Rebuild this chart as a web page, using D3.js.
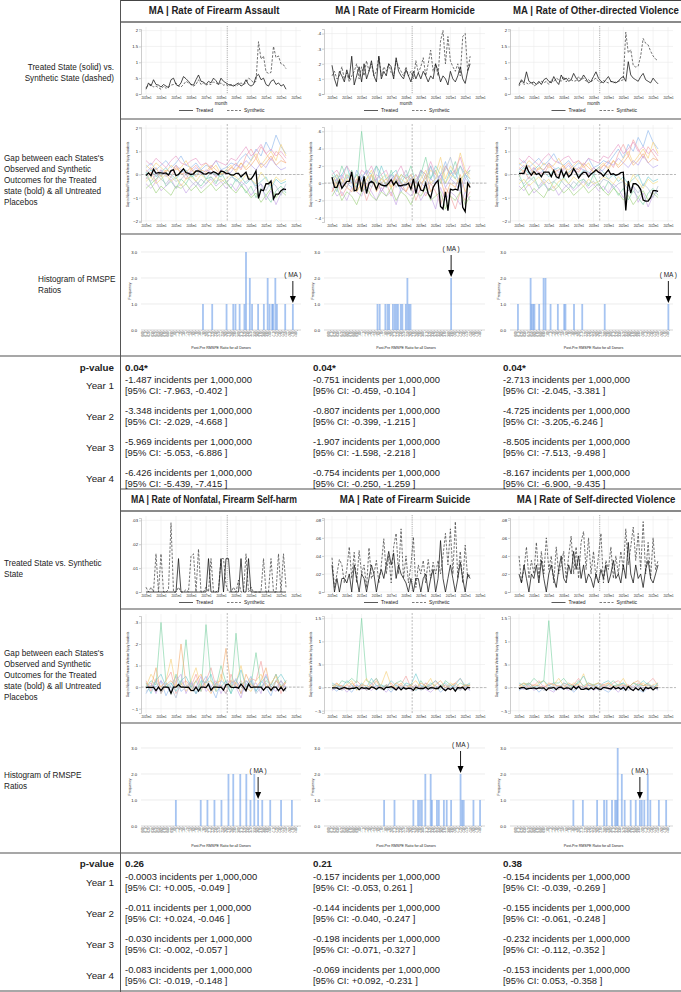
<!DOCTYPE html>
<html>
<head>
<meta charset="utf-8">
<script src="https://cdnjs.cloudflare.com/ajax/libs/d3/7.8.5/d3.min.js"></script>
<style>
  body { margin: 0; background: #fff; }
  text { font-family: "Liberation Sans", Arial, sans-serif; fill: #222; }
</style>
</head>
<body>
<svg id="fig" width="681" height="992"></svg>
<script>
// ---------- shared time axis (months since first month) ----------
const months = d3.range(0, 113, 2);
const monthsCoarse = d3.range(0, 113, 4);
const xTickMonths = d3.range(0, 121, 12);
const xTickLabels = ["2013m1", "2014m1", "2015m1", "2016m1", "2017m1", "2018m1", "2019m1", "2020m1", "2021m1", "2022m1", "2023m1"];
const treatMonth = 65;

// ---------- titles and row labels ----------
const titlesTop = ["MA | Rate of Firearm Assault", "MA | Rate of Firearm Homicide", "MA | Rate of Other-directed Violence"];
const titlesBottom = ["MA | Rate of Nonfatal, Firearm Self-harm", "MA | Rate of Firearm Suicide", "MA | Rate of Self-directed Violence"];
const yearLabels = ["Year 1", "Year 2", "Year 3", "Year 4"];

// ---------- treated (solid) vs synthetic (dashed) ----------
const assaultTreated = [0.15,0.35,0.25,0.45,0.3,0.28,0.22,0.3,0.25,0.2, 0.45,0.5,0.3,0.25,0.35,0.55,0.48,0.4,0.3,0.28, 0.45,0.6,0.4,0.38,0.3,0.4,0.35,0.5,0.42,0.3, 0.5,0.4,0.35,0.3,0.28,0.25,0.3,0.35,0.25,0.3, 0.45,0.3,0.25,0.3,0.55,0.62,0.45,0.5,0.3,0.25, 0.4,0.45,0.3,0.35,0.25,0.3,0.15];
const assaultSynth = [0.2,0.28,0.3,0.22,0.25,0.2,0.15,0.25,0.18,0.22, 0.28,0.3,0.35,0.25,0.22,0.3,0.4,0.35,0.3,0.25, 0.3,0.45,0.3,0.35,0.28,0.32,0.3,0.38,0.35,0.3, 0.35,0.28,0.3,0.25,0.3,0.28,0.25,0.3,0.35,0.3, 0.35,0.5,0.45,0.35,0.4,1.65,1.1,1.2,0.7,0.65, 0.68,1.5,1.15,1.2,0.95,0.92,0.8];
const homicideTreated = [0.19,0.1,0.05,0.15,0.12,0.08,0.16,0.1,0.25,0.06, 0.12,0.18,0.08,0.2,0.1,0.15,0.22,0.12,0.08,0.25, 0.1,0.15,0.12,0.2,0.18,0.1,0.24,0.15,0.12,0.1, 0.16,0.12,0.08,0.15,0.1,0.14,0.1,0.15,0.12,0.08, 0.12,0.1,0.2,0.15,0.08,0.12,0.1,0.06,0.15,0.1, 0.08,0.12,0.18,0.1,0.07,0.15,0.2];
const homicideSynth = [0.12,0.15,0.1,0.12,0.18,0.1,0.14,0.08,0.12,0.15, 0.2,0.1,0.18,0.12,0.22,0.15,0.2,0.12,0.15,0.25, 0.12,0.18,0.15,0.2,0.14,0.12,0.22,0.18,0.15,0.12, 0.18,0.12,0.15,0.1,0.22,0.14,0.18,0.24,0.12,0.2, 0.29,0.15,0.2,0.12,0.35,0.42,0.2,0.38,0.22,0.18, 0.15,0.2,0.12,0.38,0.4,0.15,0.25];
const otherTreated = [0.3,0.45,0.35,0.7,0.4,0.35,0.38,0.3,0.4,0.3, 0.45,0.5,0.4,0.35,0.55,0.4,0.3,0.6,0.45,0.5, 0.4,0.45,0.65,0.5,0.4,0.45,0.6,0.48,0.35,0.4, 0.55,0.7,0.5,0.4,0.35,0.45,0.55,0.4,0.38,0.35, 0.4,0.5,0.55,0.4,1.02,0.6,0.5,0.45,0.4,0.55, 0.65,0.45,0.4,0.35,0.5,0.4,0.32];
const otherSynth = [0.25,0.4,0.3,0.35,0.3,0.38,0.25,0.3,0.35,0.4, 0.35,0.4,0.3,0.45,0.38,0.5,0.45,0.4,0.55,0.38, 0.5,0.45,0.4,0.42,0.55,0.45,0.5,0.4,0.45,0.38, 0.45,0.5,0.4,0.35,0.42,0.38,0.35,0.4,0.35,0.38, 0.4,0.42,0.45,1.95,1.3,1.4,0.9,0.85,0.88,1.2, 1.75,1.6,1.55,1.35,1.2,1.1,1.05];
const selfharmTreated = [0,0,0,0,0,0,0,0,0,0, 0,0,0,0.014,0,0,0,0,0,0, 0,0,0,0,0,0.014,0,0,0,0, 0.014,0,0.014,0.014,0,0,0,0,0.014,0, 0,0.014,0,0,0,0,0,0,0,0, 0,0,0,0,0,0,0];
const selfharmSynth = [0.002,0,0.002,0,0.016,0,0.016,0,0,0.001, 0.029,0,0,0.002,0,0,0.001,0,0.015,0.016, 0,0.018,0,0,0.002,0,0.014,0,0,0.001, 0.014,0.014,0.003,0,0,0.002,0,0.005,0,0, 0.016,0,0.002,0,0,0,0,0.014,0,0, 0.014,0,0,0.016,0,0.016,0.002];
const suicideTreated = [0.03,0,0.015,0,0.015,0.015,0.01,0.02,0,0.03, 0.015,0,0.02,0.015,0,0.015,0.03,0.02,0,0.015, 0.025,0.015,0.03,0.045,0.03,0.043,0.015,0.03,0.02,0.015, 0.01,0,0.015,0,0.015,0.015,0,0.015,0.02,0, 0.015,0.025,0,0.015,0.057,0.015,0,0.015,0.03,0.015, 0,0.015,0.033,0.015,0,0.02,0.015];
const suicideSynth = [0.038,0.005,0.02,0.036,0.03,0.01,0.025,0.05,0.015,0.044, 0.01,0.046,0.02,0.03,0.005,0.049,0.015,0.02,0.035,0.01, 0.03,0.059,0.02,0.04,0.01,0.05,0.065,0.02,0.07,0.015, 0.04,0.01,0.03,0.061,0.005,0.03,0.02,0.035,0.01,0.036, 0.015,0.033,0.02,0.035,0.02,0.04,0.065,0.03,0.07,0.02, 0.078,0.015,0.045,0.01,0.052,0.015,0.02];
const selfdirTreated = [0.02,0.01,0.03,0.015,0,0.02,0.015,0.03,0.01,0.035, 0.015,0,0.02,0.03,0.015,0.005,0.025,0.04,0.015,0.01, 0.03,0.02,0.045,0.025,0.04,0.015,0.03,0.01,0.02,0.015, 0.005,0.02,0.01,0.025,0.015,0.03,0.01,0.02,0.035,0.015, 0.02,0.01,0.03,0.015,0.055,0.02,0.01,0.03,0.015,0.02, 0.005,0.025,0.035,0.015,0.01,0.02,0.03];
const selfdirSynth = [0.04,0.01,0.025,0.05,0.015,0.035,0.02,0.055,0.015,0.045, 0.02,0.06,0.025,0.04,0.01,0.05,0.02,0.03,0.045,0.015, 0.04,0.062,0.02,0.05,0.015,0.055,0.067,0.025,0.06,0.02, 0.045,0.015,0.04,0.065,0.01,0.035,0.025,0.05,0.015,0.04, 0.02,0.045,0.025,0.07,0.03,0.05,0.072,0.035,0.065,0.025, 0.078,0.02,0.055,0.015,0.06,0.025,0.035];

// ---------- placebo gaps (every 4 months) ----------
const gapAssault = [
  [0.3,0.5,0.2,0.4,0.6,0.3,0.5,0.8,0.4,0.3,0.5,0.2,0.4,0.3,0.6,0.2,0.3,0.5,0.4,0.7,0.9,0.6,1.1,0.8,1.4,1.0,1.7,1.2,0.9],
  [-0.2,0.1,-0.3,0.2,0.0,-0.1,0.3,0.1,-0.2,0.2,0.4,0.1,0.0,0.3,-0.1,0.2,0.0,0.3,0.5,0.2,0.8,1.1,0.7,1.2,0.9,0.6,1.0,0.8,0.5],
  [0.1,-0.4,-0.2,0.0,-0.5,-0.3,-0.6,-0.2,-0.4,0.0,-0.3,-0.5,-0.2,-0.1,-0.4,0.1,-0.3,-0.6,-0.2,-0.4,-0.8,-0.5,-1.0,-0.6,-0.9,-1.2,-0.7,-0.5,-0.8],
  [0.4,0.2,0.5,0.3,0.1,0.4,0.2,0.3,0.6,0.2,0.1,0.3,0.5,0.2,0.4,0.0,0.2,0.4,0.1,0.5,0.3,0.6,0.9,0.4,0.7,1.0,0.6,1.3,0.8],
  [-0.4,-0.6,-0.3,-0.7,-0.5,-0.2,-0.6,-0.4,-0.8,-0.5,-0.3,-0.6,-0.4,-0.2,-0.5,-0.3,-0.6,-0.4,-0.7,-0.3,-0.5,-0.9,-0.6,-0.4,-1.1,-0.7,-1.3,-0.8,-0.6],
  [0.0,0.2,-0.1,0.1,0.3,0.0,-0.2,0.1,0.2,-0.1,0.0,0.2,-0.2,0.1,0.0,-0.1,0.2,0.0,-0.3,-0.1,-0.4,-0.2,-0.5,-0.3,-0.1,-0.6,-0.2,-0.4,-0.3],
  [0.2,0.0,0.3,-0.1,0.2,0.1,0.4,0.0,0.1,0.3,-0.1,0.2,0.1,0.4,0.2,0.0,0.1,0.3,0.2,0.5,0.2,0.4,0.7,0.3,0.5,0.8,0.4,0.6,0.5],
  [-0.1,-0.3,0.0,-0.2,-0.4,-0.1,-0.3,-0.2,0.0,-0.3,-0.5,-0.2,-0.4,-0.1,-0.3,-0.2,-0.4,-0.1,-0.2,-0.5,-0.3,-0.2,-0.6,-0.4,-0.7,-0.3,-0.5,-0.9,-0.4],
  [0.6,0.4,0.7,0.5,0.3,0.6,0.8,0.5,0.4,0.6,0.7,0.4,0.5,0.3,0.6,0.5,0.4,0.7,0.6,0.9,1.2,0.8,1.0,1.3,0.9,1.1,0.8,1.0,0.7],
  [-0.6,-0.4,-0.8,-0.5,-0.7,-0.9,-0.5,-0.6,-0.4,-0.7,-0.5,-0.8,-0.6,-0.4,-0.7,-0.5,-0.3,-0.6,-0.8,-0.5,-0.7,-1.0,-0.8,-1.2,-0.9,-0.6,-1.0,-0.7,-0.9],
  [0.1,0.3,0.0,0.2,-0.1,0.1,0.4,0.2,0.0,0.1,0.3,0.0,0.2,0.1,-0.1,0.2,0.0,0.1,0.4,0.3,0.6,0.4,0.2,0.5,0.3,0.7,0.4,0.2,0.3],
  [-0.3,-0.1,-0.4,-0.2,0.0,-0.3,-0.1,-0.5,-0.2,-0.1,-0.3,0.0,-0.2,-0.4,-0.1,-0.3,-0.2,0.0,-0.1,-0.3,0.0,-0.2,-0.4,0.1,-0.2,-0.5,-0.1,-0.3,-0.2]
];
const gapHomicide = [
  [0.05,-0.1,0.1,0.0,-0.05,0.15,0.05,-0.1,0.1,0.2,0.0,-0.05,0.1,0.05,-0.1,0.0,0.1,-0.05,0.15,0.05,0.2,0.0,0.1,0.25,0.05,0.15,-0.05,0.1,0.05],
  [-0.1,0.05,-0.15,-0.05,0.1,-0.1,0.0,-0.2,-0.05,0.05,-0.1,0.0,-0.15,0.05,-0.05,-0.1,0.0,-0.2,-0.05,-0.15,0.0,-0.1,-0.25,-0.05,-0.15,-0.3,-0.1,-0.2,-0.1],
  [0.1,0.0,0.2,0.05,0.15,-0.05,0.6,0.1,0.0,0.2,0.1,-0.05,0.15,0.0,0.1,0.05,0.2,0.0,0.1,0.3,0.05,0.15,0.0,0.2,0.1,0.25,0.05,0.1,0.15],
  [0.0,0.1,-0.05,0.05,0.0,0.1,-0.1,0.05,0.15,0.0,0.05,0.1,-0.05,0.0,0.1,0.05,-0.05,0.1,0.0,0.05,0.15,0.1,0.3,0.05,0.2,0.1,0.35,0.15,0.1],
  [-0.05,-0.15,-0.1,-0.2,-0.05,-0.1,-0.15,0.0,-0.1,-0.2,-0.05,-0.15,-0.1,-0.25,-0.05,-0.1,-0.15,-0.05,-0.2,-0.1,-0.15,-0.3,-0.05,-0.2,-0.1,-0.15,-0.25,-0.1,-0.2],
  [0.15,0.05,0.1,0.2,0.0,0.1,0.05,0.15,0.1,0.0,0.2,0.05,0.1,0.15,0.0,0.1,0.05,0.0,0.15,0.1,0.05,0.2,0.1,0.0,0.15,0.05,0.2,0.1,0.0],
  [-0.1,0.0,0.05,-0.05,-0.1,0.05,0.0,-0.05,0.1,-0.1,0.0,0.05,-0.05,0.1,0.0,-0.1,0.05,0.0,-0.05,0.1,-0.1,0.0,0.05,-0.15,0.0,-0.05,0.1,-0.1,0.0],
  [0.05,0.1,0.0,-0.05,0.05,0.0,0.1,0.05,-0.05,0.1,0.05,0.0,0.1,-0.05,0.05,0.15,0.0,0.05,0.1,0.0,0.2,0.05,0.1,0.15,0.3,0.1,0.2,0.05,0.15],
  [0.1,0.15,0.05,0.2,0.1,0.0,0.15,0.1,0.2,0.05,0.1,0.15,0.0,0.1,0.2,0.05,0.1,0.0,0.15,0.1,0.25,0.1,0.05,0.2,0.1,0.15,0.3,0.1,0.2],
  [-0.15,-0.05,-0.2,-0.1,-0.15,-0.25,-0.1,-0.05,-0.15,-0.2,-0.1,-0.15,-0.05,-0.2,-0.1,-0.15,-0.25,-0.1,-0.15,-0.05,-0.2,-0.15,-0.1,-0.3,-0.15,-0.2,-0.1,-0.25,-0.15],
  [0.0,0.05,-0.05,0.1,0.0,-0.05,0.05,0.15,0.0,0.05,-0.1,0.0,0.05,0.1,-0.05,0.0,0.05,0.1,0.0,-0.05,0.05,0.0,0.1,-0.05,0.05,0.0,-0.1,0.05,0.0],
  [0.05,-0.05,0.0,0.1,0.05,-0.1,0.0,0.05,0.1,-0.05,0.05,0.0,-0.05,0.1,0.05,0.0,0.1,-0.05,0.05,0.15,0.0,0.05,0.2,0.0,0.1,0.05,0.0,0.15,0.05]
];
const gapOther = [
  [0.4,0.6,0.3,0.5,0.7,0.4,0.6,0.9,0.5,0.4,0.6,0.3,0.5,0.4,0.7,0.3,0.4,0.6,0.5,0.8,1.1,0.7,1.3,1.0,1.6,1.2,1.9,1.4,1.1],
  [-0.1,0.2,-0.2,0.3,0.1,0.0,0.4,0.2,-0.1,0.3,0.5,0.2,0.1,0.4,0.0,0.3,0.1,0.4,0.6,0.3,0.9,1.3,0.8,1.5,1.1,0.7,1.2,0.9,0.6],
  [0.0,-0.5,-0.3,-0.1,-0.6,-0.4,-0.7,-0.3,-0.5,-0.1,-0.4,-0.6,-0.3,-0.2,-0.5,0.0,-0.4,-0.7,-0.3,-0.5,-0.9,-0.6,-1.1,-0.7,-1.0,-1.3,-0.8,-0.6,-0.9],
  [0.5,0.3,0.6,0.4,0.2,0.5,0.3,0.4,0.7,0.3,0.2,0.4,0.6,0.3,0.5,0.1,0.3,0.5,0.2,0.6,0.4,0.7,1.0,0.5,0.8,1.1,0.7,1.4,0.9],
  [-0.5,-0.7,-0.4,-0.8,-0.6,-0.3,-0.7,-0.5,-0.9,-0.6,-0.4,-0.7,-0.5,-0.3,-0.6,-0.4,-0.7,-0.5,-0.8,-0.4,-0.6,-1.0,-0.7,-0.5,-1.2,-0.8,-1.4,-0.9,-0.7],
  [0.1,0.3,0.0,0.2,0.4,0.1,-0.1,0.2,0.3,0.0,0.1,0.3,-0.1,0.2,0.1,0.0,0.3,0.1,-0.2,0.0,-0.3,-0.1,-0.4,-0.2,0.0,-0.5,-0.1,-0.3,-0.2],
  [0.3,0.1,0.4,0.0,0.3,0.2,0.5,0.1,0.2,0.4,0.0,0.3,0.2,0.5,0.3,0.1,0.2,0.4,0.3,0.6,0.3,0.5,0.8,0.4,0.6,0.9,0.5,0.7,0.6],
  [-0.2,-0.4,-0.1,-0.3,-0.5,-0.2,-0.4,-0.3,-0.1,-0.4,-0.6,-0.3,-0.5,-0.2,-0.4,-0.3,-0.5,-0.2,-0.3,-0.6,-0.4,-0.3,-0.7,-0.5,-0.8,-0.4,-0.6,-1.0,-0.5],
  [0.7,0.5,0.8,0.6,0.4,0.7,0.9,0.6,0.5,0.7,0.8,0.5,0.6,0.4,0.7,0.6,0.5,0.8,0.7,1.0,1.3,0.9,1.1,1.4,1.0,1.2,0.9,1.1,0.8],
  [-0.7,-0.5,-0.9,-0.6,-0.8,-1.0,-0.6,-0.7,-0.5,-0.8,-0.6,-0.9,-0.7,-0.5,-0.8,-0.6,-0.4,-0.7,-0.9,-0.6,-0.8,-1.1,-0.9,-1.3,-1.0,-0.7,-1.1,-0.8,-1.0],
  [0.2,0.4,0.1,0.3,0.0,0.2,0.5,0.3,0.1,0.2,0.4,0.1,0.3,0.2,0.0,0.3,0.1,0.2,0.5,0.4,0.7,0.5,0.3,0.6,0.4,0.8,0.5,0.3,0.4],
  [-0.4,-0.2,-0.5,-0.3,-0.1,-0.4,-0.2,-0.6,-0.3,-0.2,-0.4,-0.1,-0.3,-0.5,-0.2,-0.4,-0.3,-0.1,-0.2,-0.4,-0.1,-0.3,-0.5,0.0,-0.3,-0.6,-0.2,-0.4,-0.3]
];
const gapSelfharm = [
  [-0.03,0.01,0,0.03,-0.04,0.01,0.05,-0.02,0,0.03,-0.03,0.01,0.05,0,-0.05,0.03,0.01,0,0.04,-0.03,0.01,0.05,-0.02,0.03,0,-0.04,0.03,0.01,0],
  [0.03,-0.02,0.04,0,0.03,0.07,-0.03,0.01,0.03,0,0.06,-0.02,0.03,0.09,0,0.01,-0.03,0.06,0,0.03,-0.02,0.04,0.03,0.12,0,0.01,0.06,-0.03,0.03],
  [0,0.03,0.01,0.3,0.02,-0.03,0.06,0.01,0.22,0,0.03,-0.02,0.29,0.03,0,0.1,0.02,-0.03,0.25,0.01,0.03,0.01,0.16,0,0.03,0.01,0.06,0,0.03],
  [0,0.06,0.02,0,0.03,0.13,0,0.02,-0.02,0.03,0.09,0,0.02,0.03,-0.02,0.06,0,0.03,0.02,0.1,0,-0.02,0.03,0.06,0,0.02,0.05,0,0.03],
  [0,0.02,-0.03,0.03,0,-0.02,0.03,0.06,-0.03,0.02,0,0.05,-0.02,0,0.03,-0.03,0.02,0.03,0,-0.05,0.03,0,0.02,-0.03,0.06,0,-0.02,0.03,0],
  [0.02,-0.03,0.03,0.06,0,0.02,-0.02,0.03,0.05,0,-0.03,0.03,0.02,0.06,-0.02,0,0.03,-0.03,0.02,0.08,0,0.03,-0.02,0.02,0.05,0,0.03,0.06,0.02],
  [0.02,0,0.09,-0.03,0.01,0.03,0,0.2,0.01,-0.02,0.03,0.06,0,-0.03,0.02,0.03,0.18,0,0.02,-0.03,0.06,0.01,0,0.03,0.09,-0.02,0.03,0,0.02],
  [-0.02,0,0.03,-0.03,0.02,0,-0.05,0.03,0,0.02,-0.03,0,0.03,-0.02,0.02,0,-0.03,0.02,0.03,0,-0.02,0.03,-0.03,0,0.02,-0.02,0,0.03,-0.02]
];
const gapSuicide = [
  [0,-0.08,0.04,0,-0.1,0.06,0,-0.04,0.1,-0.06,0.04,0,-0.1,0.06,0,-0.04,0.04,-0.06,0,0.1,-0.04,0.04,-0.1,0,0.06,-0.04,0,0.04,-0.06],
  [0.04,0.1,-0.04,0.06,0,0.15,0.04,-0.06,0.06,0.2,0,0.04,0.1,-0.04,0.06,0.25,0,0.06,-0.04,0.1,0.04,0.15,0,0.06,-0.06,0.1,0.2,0,0.06],
  [0.06,0,0.15,0.1,0.2,0.1,1.5,0.15,0.1,0.2,0,0.06,-0.04,0.1,0.15,0.04,0.06,-0.06,0.15,0,0.1,0.04,-0.04,0.15,0.06,0,0.1,0.04,0.06],
  [-0.04,0.1,0,0.06,0.15,-0.06,0.04,0.2,0,-0.04,0.06,0.35,0.04,0,0.1,-0.04,0.06,0.15,0,0.04,0.2,-0.06,0.06,0,0.1,0.04,-0.04,0.06,0],
  [-0.06,0,0.04,-0.1,0,0.06,-0.04,0,-0.06,0.04,0,-0.1,0.04,-0.04,0,0.06,-0.06,0,0.04,-0.04,-0.1,0,0.04,-0.06,0,0.04,-0.04,0,-0.06],
  [0.1,0.04,0,0.15,0.06,-0.04,0.1,0,0.2,0.04,0.06,0,0.15,0.04,-0.04,0.1,0.06,0.3,0.04,0,0.06,0.15,0.04,0.1,0,0.06,0.2,0.04,0.1],
  [0,0.06,0.04,-0.04,0.1,0,0.06,0.04,0,0.15,-0.04,0.06,0,0.1,0.04,0,0.06,-0.04,0.1,0.04,0,0.06,0.15,0,0.04,0.1,0,0.06,0.04],
  [-0.04,0.04,-0.06,0,0.04,-0.04,0.06,-0.06,0,0.04,-0.04,0.06,0,-0.06,0.04,0,-0.04,0.06,-0.06,0,0.04,-0.04,0,0.06,-0.04,0,-0.06,0.04,0]
];
const gapSelfdir = [
  [-0.06,0,-0.04,0.04,-0.1,0,0.06,-0.06,0,-0.04,0.04,-0.1,0,0.04,-0.06,0,0.06,-0.04,-0.1,0,0.04,-0.06,0,0.04,-0.04,-0.1,0,0.04,-0.04],
  [0.06,0,0.1,0.04,0.15,0,0.06,0.1,-0.04,0.1,0.04,0.06,0.2,0,0.06,0.04,0.1,0.06,0,0.1,0.15,0.04,0.06,0,0.1,0.04,0.1,0.2,0.04],
  [0.04,0.1,0.06,0.2,0.1,0.15,1.45,0.1,0.1,0.2,0.06,0,0.15,0.04,0.1,0.06,0.1,0,0.06,0.15,0.04,0.1,0,0.1,0.06,0.04,0.1,0,0.06],
  [0,0.06,0.1,0,0.1,0.15,-0.04,0.06,0.2,0.04,0,0.1,0.06,0.3,-0.04,0.06,0.1,0,0.1,0.04,0.06,0.2,0,0.1,0.04,0.1,0,0.06,0.1],
  [0,-0.04,0.04,-0.06,0,0.04,-0.04,-0.1,0.04,0,-0.06,0.04,0,-0.04,0.06,-0.06,0,0.04,-0.04,0,-0.1,0.04,0,-0.06,0.04,0,-0.04,0.04,-0.06],
  [0.1,0.04,0.1,0,0.06,0.15,0.04,0.1,0,0.1,0.06,0.04,0.1,0.25,0.04,0.06,0,0.1,0.15,0.04,0.06,0.1,0,0.1,0.04,0.15,0.06,0,0.1],
  [0.04,0.1,0,0.06,0.04,0,0.1,0.06,0.04,0,0.1,0.04,0.06,0,0.1,0.04,0,0.06,0.1,0,0.04,0.06,0,0.1,0.15,0.04,0.06,0,0.04],
  [-0.04,0,0.06,-0.04,0.04,-0.06,0,0.04,-0.04,0.06,0,-0.06,0.04,0,-0.04,0.04,-0.06,0,0.06,-0.04,0,0.04,-0.06,0,0.04,-0.04,0.06,0,-0.04]
];
const placeboColors = ["#8fb8ec", "#f2a0a0", "#7fd3a6", "#f5cf7a", "#c4a3e6", "#74cbd0", "#f3ad72", "#aab8cc", "#e89bc6", "#9fd27e", "#b5a4f0", "#f1dc7e"];

// ---------- RMSPE ratio histograms: ratio value and frequency ----------
const histAssaultRatio = [1.85,2.14,2.59,2.80,2.87,3.00,3.15,3.20,3.32,3.39,3.58,3.76,3.88,3.94,4.02,4.05,4.12,4.17,4.43,4.67];
const histAssaultFreq  = [1,1,1,1,1,1,1,3,2,1,1,1,2,1,1,1,2,1,1,1];
const histHomicideRatio = [1.51,1.58,1.76,1.83,1.88,2.00,2.06,2.11,2.16,2.25,2.30,2.41,2.46,2.51,2.56,3.85];
const histHomicideFreq  = [1,1,1,1,1,1,1,1,1,1,1,1,2,1,1,2];
const histOtherRatio = [0.03,0.43,0.46,0.51,0.55,0.70,0.84,0.90,1.06,1.29,1.49,1.53,1.80,2.06,2.77,4.78];
const histOtherFreq  = [1,2,1,1,1,1,2,2,1,1,1,1,1,1,1,1];
const histSelfharmRatio = [1.00,1.78,1.99,2.21,2.43,2.65,2.80,3.02,3.21,3.34,3.46,3.58,3.71,3.96,4.30,4.64];
const histSelfharmFreq  = [1,1,1,1,1,2,2,2,2,1,2,1,1,1,1,1];
const histSuicideRatio = [1.72,2.05,2.65,2.80,2.86,2.92,3.03,3.20,3.24,3.40,3.46,3.62,3.71,3.85,4.15,4.20,4.25,4.56,4.77];
const histSuicideFreq  = [1,1,1,1,1,1,2,2,1,1,1,1,1,1,2,1,1,1,1];
const histSelfdirRatio = [1.78,2.08,2.53,2.75,2.83,3.00,3.10,3.15,3.18,3.31,3.40,3.59,3.75,3.88,3.94,4.02,4.13,4.21,4.48,4.71];
const histSelfdirFreq  = [1,1,1,1,1,1,1,1,3,2,1,1,1,1,1,1,2,1,1,1];
const maRatios = [4.67, 3.85, 4.78, 3.58, 4.15, 3.88];
const histTicks = d3.range(0, 49).map(d => d / 10);

// ---------- effect estimates ----------
const pValuesTop = ["0.04*", "0.04*", "0.04*"];
const pValuesBottom = ["0.26", "0.21", "0.38"];
const effectsTop = [
  ["-1.487", "-3.348", "-5.969", "-6.426"],
  ["-0.751", "-0.807", "-1.907", "-0.754"],
  ["-2.713", "-4.725", "-8.505", "-8.167"]
];
const ciTop = [
  ["-7.963, -0.402", "-2.029, -4.668", "-5.053, -6.886", "-5.439, -7.415"],
  ["-0.459, -0.104", "-0.399, -1.215", "-1.598, -2.218", "-0.250, -1.259"],
  ["-2.045, -3.381", "-3.205,-6.246", "-7.513, -9.498", "-6.900, -9.435"]
];
const effectsBottom = [
  ["-0.0003", "-0.011", "-0.030", "-0.083"],
  ["-0.157", "-0.144", "-0.198", "-0.069"],
  ["-0.154", "-0.155", "-0.232", "-0.153"]
];
const ciBottom = [
  ["+0.005, -0.049", "+0.024, -0.046", "-0.002, -0.057", "-0.019, -0.148"],
  ["-0.053, 0.261", "-0.040, -0.247", "-0.071, -0.327", "+0.092, -0.231"],
  ["-0.039, -0.269", "-0.061, -0.248", "-0.112, -0.352", "0.053, -0.358"]
];

// ---------- layout ----------
const svg = d3.select("#fig");
const cols = [
  { axis: 141, a: 146, b: 296, center: 214, textX: 125 },
  { axis: 324, a: 332, b: 480, center: 405, textX: 313 },
  { axis: 510, a: 519, b: 668, center: 596, textX: 503 }
];
const blocks = [
  { top: 0, title: 14, titleLine: 22, lineTop: 29, lineBot: 94, xlab: 99, month: 105, legend: 112, rowA: 119,
    gapTop: 127, gapBot: 222, gapXlab: 228, rowB: 234, hist3: 252, hist0: 330, histTitle: 349, rowC: 356,
    pval: 371, year0: 383 },
  { top: 489, title: 503, titleLine: 511, lineTop: 518, lineBot: 592, xlab: 597, month: null, legend: 604, rowA: 609,
    gapTop: 616, gapBot: 713, gapXlab: 719, rowB: 723, hist3: 748, hist0: 826, histTitle: 847, rowC: 853,
    pval: 867, year0: 880 }
];

const stata = d => d3.format("~g")(d).replace(/^([−-]?)0\./, "$1.");
const x = c => d3.scaleLinear().domain([0, 120]).range([c.a, c.b]);

// text squeezed horizontally (the original uses a narrow face)
function narrowText(xPos, yPos, s, size, anchor, k, weight) {
  const t = svg.append("text").attr("x", 0).attr("y", 0).attr("font-size", size)
    .attr("text-anchor", anchor).text(s);
  if (weight) t.attr("font-weight", weight);
  t.attr("transform", `translate(${xPos},${yPos}) scale(${k},1)`);
  return t;
}

function hline(y, x1, color, w) {
  svg.append("line").attr("x1", x1).attr("x2", 681).attr("y1", y).attr("y2", y)
    .attr("stroke", color).attr("stroke-width", w);
}

function styleAxis(g, size) {
  g.select(".domain").attr("stroke", "#9a9a9a").attr("stroke-width", 0.5);
  g.selectAll(".tick line").attr("stroke", "#9a9a9a").attr("stroke-width", 0.5);
  g.selectAll(".tick text").attr("font-size", size).attr("fill", "#333");
}

function timeFrame(c, y, top, bot, yTicks) {
  const xs = x(c);
  const g = svg.append("g");
  g.selectAll(".hg").data(yTicks).join("line")
    .attr("x1", c.axis).attr("x2", c.b + 5).attr("y1", d => y(d)).attr("y2", d => y(d))
    .attr("stroke", "#ebebeb").attr("stroke-width", 0.6);
  g.selectAll(".vg").data(xTickMonths).join("line")
    .attr("x1", d => xs(d)).attr("x2", d => xs(d)).attr("y1", top - 2).attr("y2", bot)
    .attr("stroke", "#ebebeb").attr("stroke-width", 0.6);
  const ya = g.append("g").attr("transform", `translate(${c.axis},0)`)
    .call(d3.axisLeft(y).tickValues(yTicks).tickFormat(stata).tickSize(2).tickPadding(1));
  styleAxis(ya, 4.2);
  const xa = g.append("g").attr("transform", `translate(0,${bot + 1})`)
    .call(d3.axisBottom(xs).tickValues(xTickMonths).tickFormat((d, i) => xTickLabels[i]).tickSize(1.5).tickPadding(1));
  styleAxis(xa, 2.8);
  xa.select(".domain").remove();
  return { g, xs };
}

function lineChart(c, B, yDomain, yTicks, treated, synth) {
  const y = d3.scaleLinear().domain(yDomain).range([B.lineBot, B.lineTop]);
  const { g, xs } = timeFrame(c, y, B.lineTop, B.lineBot, yTicks);
  g.append("line").attr("x1", xs(treatMonth)).attr("x2", xs(treatMonth))
    .attr("y1", B.lineTop - 3).attr("y2", B.lineBot).attr("stroke", "#777")
    .attr("stroke-width", 0.6).attr("stroke-dasharray", "1.2,1");
  const line = d3.line().x((d, i) => xs(months[i])).y(d => y(d));
  g.append("path").datum(synth).attr("d", line).attr("fill", "none")
    .attr("stroke", "#444").attr("stroke-width", 0.75).attr("stroke-dasharray", "2.5,1.5");
  g.append("path").datum(treated).attr("d", line).attr("fill", "none")
    .attr("stroke", "#111").attr("stroke-width", 0.75);
  if (B.month) {
    g.append("text").attr("x", (c.a + c.b) / 2).attr("y", B.month).attr("text-anchor", "middle")
      .attr("font-size", 4.5).text("month");
  }
  const cx = (c.a + c.b) / 2 + 4;
  g.append("line").attr("x1", cx - 46).attr("x2", cx - 32).attr("y1", B.legend - 1.5).attr("y2", B.legend - 1.5)
    .attr("stroke", "#111").attr("stroke-width", 0.7);
  g.append("text").attr("x", cx - 29).attr("y", B.legend).attr("font-size", 5).text("Treated");
  g.append("line").attr("x1", cx + 2).attr("x2", cx + 16).attr("y1", B.legend - 1.5).attr("y2", B.legend - 1.5)
    .attr("stroke", "#444").attr("stroke-width", 0.7).attr("stroke-dasharray", "2.5,1.5");
  g.append("text").attr("x", cx + 19).attr("y", B.legend).attr("font-size", 5).text("Synthetic");
}

function gapChart(c, B, yDomain, yTicks, placebos, treated, synth) {
  const y = d3.scaleLinear().domain(yDomain).range([B.gapBot, B.gapTop]);
  const { g, xs } = timeFrame(c, y, B.gapTop, B.gapBot, yTicks);
  g.append("text").attr("transform", `translate(${c.axis - 12},${(B.gapTop + B.gapBot) / 2}) rotate(-90)`)
    .attr("text-anchor", "middle").attr("font-size", 3).text("Gap in Nonfatal Firearm Violence Injury Incidents");
  const coarse = d3.line().x((d, i) => xs(monthsCoarse[i])).y(d => y(d));
  g.selectAll(".placebo").data(placebos).join("path")
    .attr("d", coarse).attr("fill", "none")
    .attr("stroke", (d, i) => placeboColors[i % placeboColors.length])
    .attr("stroke-width", 0.75).attr("opacity", 0.85);
  g.append("line").attr("x1", c.axis).attr("x2", c.b + 8).attr("y1", y(0)).attr("y2", y(0))
    .attr("stroke", "#aaa").attr("stroke-width", 0.8).attr("stroke-dasharray", "2.5,1.5");
  g.append("line").attr("x1", xs(treatMonth)).attr("x2", xs(treatMonth))
    .attr("y1", B.gapTop - 3).attr("y2", B.gapBot).attr("stroke", "#aaa")
    .attr("stroke-width", 0.8).attr("stroke-dasharray", "2,1.5");
  const gap = treated.map((v, i) => v - synth[i]);
  const fine = d3.line().x((d, i) => xs(months[i])).y(d => y(d));
  g.append("path").datum(gap).attr("d", fine).attr("fill", "none")
    .attr("stroke", "#000").attr("stroke-width", 1.3);
}

function histChart(c, B, ratios, freqs, maRatio) {
  const xs = d3.scaleLinear().domain([0, 4.8]).range([c.a - 2, c.b + 1]);
  const y = d3.scaleLinear().domain([0, 3]).range([B.hist0, B.hist3]);
  const g = svg.append("g");
  g.selectAll(".hg").data([1, 2, 3]).join("line")
    .attr("x1", c.axis).attr("x2", c.b + 5).attr("y1", d => y(d)).attr("y2", d => y(d))
    .attr("stroke", "#e4e4e4").attr("stroke-width", 0.7);
  const ya = g.append("g").attr("transform", `translate(${c.axis},0)`)
    .call(d3.axisLeft(y).tickValues([0, 1, 2, 3]).tickSize(0).tickPadding(4));
  styleAxis(ya, 4.2);
  ya.select(".domain").remove();
  g.append("line").attr("x1", c.axis).attr("x2", c.b + 5).attr("y1", B.hist0).attr("y2", B.hist0)
    .attr("stroke", "#bbb").attr("stroke-width", 0.6);
  g.append("text").attr("transform", `translate(${c.axis - 10},${(B.hist0 + B.hist3) / 2}) rotate(-90)`)
    .attr("text-anchor", "middle").attr("font-size", 3.6).text("Frequency");
  g.selectAll(".bar").data(ratios).join("rect")
    .attr("x", d => xs(d) - 0.9).attr("width", 1.8)
    .attr("y", (d, i) => y(freqs[i])).attr("height", (d, i) => B.hist0 - y(freqs[i]))
    .attr("fill", "#6a9ce8").attr("opacity", 0.6);
  const xa = g.append("g").attr("transform", `translate(0,${B.hist0})`)
    .call(d3.axisBottom(xs).tickValues(histTicks).tickFormat(d3.format(".2f")).tickSize(1).tickPadding(1));
  styleAxis(xa, 2.6);
  xa.select(".domain").remove();
  xa.selectAll(".tick text").attr("transform", "rotate(-90)").attr("text-anchor", "end")
    .attr("dx", "-1.5").attr("dy", "-0.2em").attr("y", 0).attr("x", 0);
  g.append("text").attr("x", (c.a + c.b) / 2).attr("y", B.histTitle).attr("text-anchor", "middle")
    .attr("font-size", 3.6).text("Post-Pre RMSPE Ratio for all Donors");
  // MA marker
  const idx = ratios.indexOf(maRatio);
  const topY = y(freqs[idx]);
  const mx = xs(maRatio);
  g.append("text").attr("x", mx).attr("y", topY - 27).attr("text-anchor", "middle")
    .attr("font-size", 6.5).text("( MA )");
  g.append("line").attr("x1", mx).attr("x2", mx).attr("y1", topY - 23).attr("y2", topY - 6)
    .attr("stroke", "#000").attr("stroke-width", 0.9);
  g.append("path").attr("d", `M${mx - 3},${topY - 8} L${mx + 3},${topY - 8} L${mx},${topY - 1} Z`).attr("fill", "#000");
}

function textLines(lines, xPos, y0, anchor, size, k) {
  lines.forEach((s, i) => narrowText(xPos, y0 + i * 11, s, size, anchor, k));
}

function table(B, pvals, effects, cis) {
  svg.append("text").attr("x", 114).attr("y", B.pval).attr("text-anchor", "end")
    .attr("font-size", 9.8).attr("font-weight", "bold").text("p-value");
  cols.forEach((c, j) => {
    svg.append("text").attr("x", c.textX).attr("y", B.pval).attr("font-size", 9.8)
      .attr("font-weight", "bold").text(pvals[j]);
  });
  yearLabels.forEach((yl, i) => {
    const y0 = B.year0 + i * 31;
    svg.append("text").attr("x", 114).attr("y", y0 + 5.5).attr("text-anchor", "end")
      .attr("font-size", 9.8).text(yl);
    cols.forEach((c, j) => {
      textLines([effects[j][i] + " incidents per 1,000,000", "[95% CI: " + cis[j][i] + " ]"], c.textX, y0, "start", 9.6, 0.98);
    });
  });
}

// ---------- frame ----------
const B1 = blocks[0], B2 = blocks[1];
hline(0.5, 120, "#444", 1);
hline(B1.titleLine, 120, "#8a8a8a", 1.8);
hline(B1.rowA, 120, "#8a8a8a", 1.5);
hline(B1.rowB, 120, "#8a8a8a", 1.5);
hline(B1.rowC, 0, "#8a8a8a", 1.5);
hline(B2.top, 120, "#8a8a8a", 1.5);
hline(B2.titleLine, 120, "#8a8a8a", 1.8);
hline(B2.rowA, 120, "#8a8a8a", 1.5);
hline(B2.rowB, 120, "#8a8a8a", 1.5);
hline(B2.rowC, 0, "#8a8a8a", 1.5);
hline(991, 0, "#8a8a8a", 1.5);
svg.append("line").attr("x1", 120.5).attr("x2", 120.5).attr("y1", 0).attr("y2", 992)
  .attr("stroke", "#555").attr("stroke-width", 1);

// ---------- titles (fit into the column) ----------
function titleRow(list, yPos) {
  list.forEach((s, j) => {
    const t = narrowText(cols[j].center, yPos, s, 10.5, "middle", 1, "bold");
    const w = t.node().getComputedTextLength();
    const k = Math.min(0.92, 166 / w);
    t.attr("transform", `translate(${cols[j].center},${yPos}) scale(${k},1)`);
  });
}
titleRow(titlesTop, B1.title);
titleRow(titlesBottom, B2.title);

// ---------- row labels ----------
const gapLabel = ["Gap between each States's", "Observed and Synthetic", "Outcomes for the Treated", "state (bold) & all Untreated", "Placebos"];
textLines(["Treated State (solid) vs.", "Synthetic State (dashed)"], 114, 70, "end", 9.5, 0.86);
textLines(gapLabel, 4, 161, "start", 9.5, 0.86);
textLines(["Histogram of RMSPE", "Ratios"], 38, 282, "start", 9.5, 0.86);
textLines(["Treated State vs. Synthetic", "State"], 4, 566, "start", 9.5, 0.86);
textLines(gapLabel, 4, 656, "start", 9.5, 0.86);
textLines(["Histogram of RMSPE", "Ratios"], 4, 778, "start", 9.5, 0.86);

// ---------- charts ----------
lineChart(cols[0], B1, [0, 2.05], [0, 0.5, 1, 1.5, 2], assaultTreated, assaultSynth);
lineChart(cols[1], B1, [0, 0.43], [0, 0.1, 0.2, 0.3, 0.4], homicideTreated, homicideSynth);
lineChart(cols[2], B1, [0, 2.05], [0, 0.5, 1, 1.5, 2], otherTreated, otherSynth);
lineChart(cols[0], B2, [0, 0.031], [0, 0.01, 0.02, 0.03], selfharmTreated, selfharmSynth);
lineChart(cols[1], B2, [0, 0.082], [0, 0.02, 0.04, 0.06, 0.08], suicideTreated, suicideSynth);
lineChart(cols[2], B2, [0, 0.082], [0, 0.02, 0.04, 0.06, 0.08], selfdirTreated, selfdirSynth);

gapChart(cols[0], B1, [-2.05, 2.05], [-2, -1, 0, 1, 2], gapAssault, assaultTreated, assaultSynth);
gapChart(cols[1], B1, [-0.45, 0.65], [-0.4, -0.2, 0, 0.2, 0.4, 0.6], gapHomicide, homicideTreated, homicideSynth);
gapChart(cols[2], B1, [-2.05, 2.05], [-2, -1, 0, 1, 2], gapOther, otherTreated, otherSynth);
gapChart(cols[0], B2, [-0.12, 0.33], [-0.1, 0, 0.1, 0.2, 0.3], gapSelfharm, selfharmTreated, selfharmSynth);
gapChart(cols[1], B2, [-0.55, 1.55], [-0.5, 0, 0.5, 1, 1.5], gapSuicide, suicideTreated, suicideSynth);
gapChart(cols[2], B2, [-0.55, 1.55], [-0.5, 0, 0.5, 1, 1.5], gapSelfdir, selfdirTreated, selfdirSynth);

histChart(cols[0], B1, histAssaultRatio, histAssaultFreq, maRatios[0]);
histChart(cols[1], B1, histHomicideRatio, histHomicideFreq, maRatios[1]);
histChart(cols[2], B1, histOtherRatio, histOtherFreq, maRatios[2]);
histChart(cols[0], B2, histSelfharmRatio, histSelfharmFreq, maRatios[3]);
histChart(cols[1], B2, histSuicideRatio, histSuicideFreq, maRatios[4]);
histChart(cols[2], B2, histSelfdirRatio, histSelfdirFreq, maRatios[5]);

// ---------- estimates ----------
table(B1, pValuesTop, effectsTop, ciTop);
table(B2, pValuesBottom, effectsBottom, ciBottom);
</script>
</body>
</html>
